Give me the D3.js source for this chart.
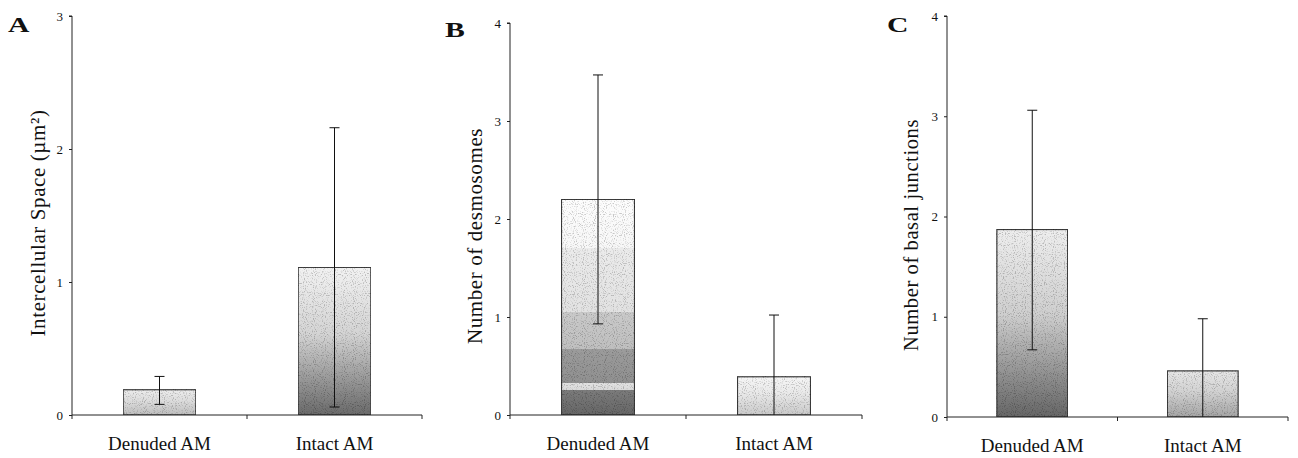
<!DOCTYPE html>
<html><head><meta charset="utf-8">
<script src="https://cdn.jsdelivr.net/npm/d3@7"></script>
<style>
html,body{margin:0;padding:0;background:#fff;}
svg{display:block;}
text{font-family:"Liberation Serif","Times New Roman",serif;fill:#111;}
</style></head>
<body>
<svg id="chart" width="1298" height="458"></svg>
<script>
// ---- data ----
const categories = ["Denuded AM", "Intact AM"];
const panelLetters = ["A", "B", "C"];
const yTitles = ["Intercellular Space (\u00B5m\u00B2)", "Number of desmosomes", "Number of basal junctions"];
const meansA = [0.19, 1.11];
const upperA = [0.29, 2.16];
const lowerA = [0.08, 0.06];
const meansB = [2.20, 0.39];
const upperB = [3.47, 1.02];
const lowerB = [0.93, 0.00];
const meansC = [1.87, 0.46];
const upperC = [3.06, 0.98];
const lowerC = [0.67, 0.00];
const ticksA = [0, 1, 2, 3];
const ticksB = [0, 1, 2, 3, 4];
const ticksC = [0, 1, 2, 3, 4];

// ---- layout / style only ----
const smooth = (top, mid, bot) => [[0, top], [0.45, mid], [1, bot]];
const layouts = [
  {left: 72,  right: 422,  top: 16, bottom: 415, letterX: 8,   letterY: 32, titleX: 40,  titleY: 223, titleSize: 21,
   shades: [smooth("#ececec", "#dcdcdc", "#bdbdbd"), smooth("#f2f2f2", "#d4d4d4", "#6a6a6a")]},
  {left: 510, right: 862,  top: 23, bottom: 415, letterX: 445, letterY: 37, titleX: 477, titleY: 236, titleSize: 21,
   shades: [[[0, "#fdfdfd"], [0.227, "#f7f7f7"], [0.227, "#ebebeb"], [0.523, "#e2e2e2"], [0.523, "#cacaca"], [0.695, "#bfbfbf"],
             [0.695, "#9c9c9c"], [0.85, "#909090"], [0.85, "#e2e2e2"], [0.882, "#dadada"], [0.882, "#7c7c7c"], [1, "#666"]],
            smooth("#f6f6f6", "#e8e8e8", "#c9c9c9")]},
  {left: 947, right: 1288, top: 16, bottom: 417, letterX: 887, letterY: 32, titleX: 913, titleY: 235, titleSize: 20.5,
   shades: [smooth("#eeeeee", "#cfcfcf", "#666666"), smooth("#e6e6e6", "#d2d2d2", "#a4a4a4")]}
];
const panels = [
  {means: meansA, upper: upperA, lower: lowerA, ticks: ticksA},
  {means: meansB, upper: upperB, lower: lowerB, ticks: ticksB},
  {means: meansC, upper: upperC, lower: lowerC, ticks: ticksC}
];

const svg = d3.select("#chart");
const defs = svg.append("defs");

// stipple filter
const f = defs.append("filter").attr("id", "stip").attr("x", 0).attr("y", 0).attr("width", 1).attr("height", 1);
f.append("feTurbulence").attr("type", "fractalNoise").attr("baseFrequency", 0.9).attr("numOctaves", 1).attr("seed", 3).attr("result", "n");
f.append("feColorMatrix").attr("in", "n").attr("type", "matrix")
  .attr("values", "0 0 0 0 0  0 0 0 0 0  0 0 0 0 0  5 0 0 0 -2.6").attr("result", "dots");
f.append("feComponentTransfer").attr("in", "dots").attr("result", "dots2")
  .append("feFuncA").attr("type", "linear").attr("slope", 0.4);
f.append("feComposite").attr("in", "dots2").attr("in2", "SourceGraphic").attr("operator", "in").attr("result", "d3");
const m = f.append("feMerge");
m.append("feMergeNode").attr("in", "SourceGraphic");
m.append("feMergeNode").attr("in", "d3");

panels.forEach((p, pi) => {
  const L = layouts[pi];
  const yMax = p.ticks[p.ticks.length - 1];
  const y = d3.scaleLinear().domain([0, yMax]).range([L.bottom, L.top]);
  const x = d3.scaleBand().domain(categories).range([L.left, L.right]).padding(0);
  const bw = x.bandwidth() * 0.415;
  const g = svg.append("g");

  // gradients
  categories.forEach((c, ci) => {
    const gr = defs.append("linearGradient").attr("id", `g${pi}_${ci}`)
      .attr("x1", 0).attr("y1", 0).attr("x2", 0).attr("y2", 1);
    L.shades[ci].forEach(s => gr.append("stop").attr("offset", s[0]).attr("stop-color", s[1]));
  });

  // bars
  g.selectAll("rect.bar").data(categories).join("rect")
    .attr("x", d => x(d) + (x.bandwidth() - bw) / 2)
    .attr("y", (d, i) => y(p.means[i]))
    .attr("width", bw)
    .attr("height", (d, i) => y(0) - y(p.means[i]))
    .attr("fill", (d, i) => `url(#g${pi}_${i})`)
    .attr("filter", "url(#stip)")
    .attr("stroke", "#3a3a3a").attr("stroke-width", 1.2);

  // error bars
  const cap = 5;
  const cx = d => x(d) + x.bandwidth() / 2;
  const eb = g.selectAll("g.eb").data(categories).join("g");
  eb.append("line")
    .attr("x1", cx).attr("x2", cx)
    .attr("y1", (d, i) => y(p.lower[i])).attr("y2", (d, i) => y(p.upper[i]))
    .attr("stroke", "#111").attr("stroke-width", 1);
  eb.append("line")
    .attr("x1", d => cx(d) - cap).attr("x2", d => cx(d) + cap)
    .attr("y1", (d, i) => y(p.upper[i])).attr("y2", (d, i) => y(p.upper[i]))
    .attr("stroke", "#111").attr("stroke-width", 1);
  eb.filter((d, i) => p.lower[i] > 0).append("line")
    .attr("x1", d => cx(d) - cap).attr("x2", d => cx(d) + cap)
    .attr("y1", d => y(p.lower[categories.indexOf(d)])).attr("y2", d => y(p.lower[categories.indexOf(d)]))
    .attr("stroke", "#111").attr("stroke-width", 1);

  // y axis
  const ya = g.append("g").attr("transform", `translate(${L.left},0)`)
    .call(d3.axisLeft(y).tickValues(p.ticks).tickFormat(d3.format("d")).tickSize(3).tickPadding(6));
  ya.select(".domain").attr("stroke", "#222").attr("d", `M-3,${L.top}H0V${L.bottom + 4}`);
  ya.selectAll("text").attr("font-size", 13).attr("font-family", "Liberation Serif").attr("fill", "#333");
  ya.selectAll(".tick line").attr("stroke", "#222");

  // x axis
  const xa = g.append("g").attr("transform", `translate(0,${L.bottom})`)
    .call(d3.axisBottom(x).tickSize(0).tickPadding(22));
  xa.select(".domain").attr("stroke", "#222").attr("d", `M${L.left},0H${L.right}`);
  xa.selectAll("text").attr("font-size", 19).attr("font-family", "Liberation Serif").attr("fill", "#111");
  const bounds = [x.range()[0] + x.bandwidth(), x.range()[1]];
  g.selectAll("line.xt").data(bounds).join("line")
    .attr("x1", d => d).attr("x2", d => d)
    .attr("y1", L.bottom).attr("y2", L.bottom + 4)
    .attr("stroke", "#222");

  // y title
  g.append("text")
    .attr("transform", `translate(${L.titleX},${L.titleY}) rotate(-90)`)
    .attr("text-anchor", "middle").attr("dominant-baseline", "middle")
    .attr("font-size", L.titleSize).attr("letter-spacing", 0.6)
    .text(yTitles[pi]);

  // panel letter (wide bold serif)
  g.append("text")
    .attr("transform", `translate(${L.letterX},${L.letterY}) scale(1.35,1)`)
    .attr("font-size", 22).attr("font-weight", "bold")
    .text(panelLetters[pi]);
});
</script>
</body></html>
